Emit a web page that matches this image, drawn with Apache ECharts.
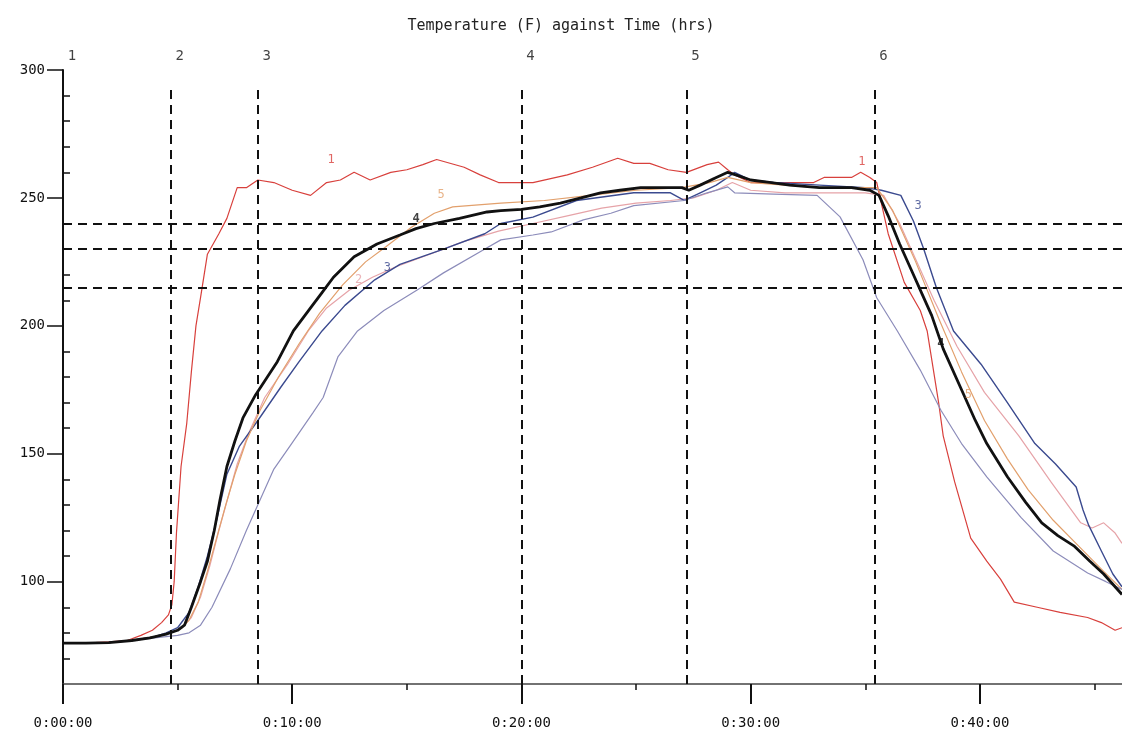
<!DOCTYPE html>
<html><head><meta charset="utf-8">
<script src="https://cdn.jsdelivr.net/npm/echarts@6/dist/echarts.min.js"></script>
<style>html,body{margin:0;padding:0;background:#fff}#c{width:1122px;height:733px}</style>
</head><body><div id="c"></div>
<script>
// Time in minutes, temperature in F
const s1 = [[0,76],[1,76],[2,76.5],[2.8,77],[3.4,79],[3.9,81],[4.3,84],[4.6,87],[4.75,91],[4.85,100],[4.95,119],[5.15,145],[5.4,162],[5.6,182],[5.8,200],[6.0,211],[6.3,228],[6.8,236],[7.15,242],[7.6,254],[8.0,254],[8.5,257],[9.2,256],[10.0,253],[10.8,251],[11.5,256],[12.1,257],[12.7,260],[13.4,257],[14.3,260],[15.0,261],[15.7,263],[16.3,265],[17.5,262],[18.2,259],[19.0,256],[20.5,256],[22.0,259],[23.1,262],[24.2,265.5],[24.9,263.5],[25.6,263.5],[26.4,261],[27.2,260],[28.1,263],[28.6,264],[29.0,261],[29.3,259],[30.0,256],[31.4,256],[32.75,256],[33.2,258],[34.4,258],[34.8,260],[35.2,258],[35.5,256],[36.0,236],[36.7,217],[37.4,206],[37.7,198],[38.2,170],[38.4,157],[38.9,139],[39.6,117],[40.3,108],[40.9,101],[41.5,92],[42.5,90],[43.5,88],[44.7,86],[45.3,84],[45.9,81],[46.2,82]];
const s2 = [[0,76],[2,76.2],[3,77],[4,78.5],[4.7,80],[5.2,82],[5.6,86],[6.0,94],[6.4,106],[6.8,120],[7.2,133],[7.6,146],[8.1,158],[8.8,172],[9.8,185],[10.7,198],[11.5,207],[12.5,214],[13.5,219],[14.5,223],[16,228],[17.5,233],[19,237],[20.5,240],[22,243],[23.5,246],[25,248],[26.5,249],[27.5,250],[28.5,253],[29.2,256],[30,253],[31.5,252],[33,252],[35,252],[35.8,251],[36.5,240],[37.2,226],[38,210],[39,192],[40.2,174],[41.7,157],[43.1,139],[44.4,123],[44.9,121],[45.4,123],[45.9,119],[46.2,115]];
const s3 = [[0,76],[2,76.2],[3,77],[4,78.5],[4.5,80],[5.0,82],[5.5,88],[5.9,98],[6.3,110],[6.7,124],[7.15,142],[7.7,153],[8.5,163],[9.5,176],[10.3,186],[11.3,198],[12.3,208],[13.6,218],[14.7,224],[16.6,230],[18.4,236],[19.1,240],[20.5,242.5],[22.4,249],[24.9,252],[26.5,252],[27.1,249],[27.8,252],[28.5,255],[29.0,258],[29.3,260],[30.0,257],[31.0,256],[33.0,255],[35.0,254],[35.7,253],[36.55,251],[37.1,241],[37.55,230],[38.1,215],[38.85,198],[40.05,185],[41.2,170],[42.4,154],[43.3,146],[44.2,137],[44.5,128],[44.75,122],[45.3,112],[45.8,103],[46.2,98]];
const s4 = [[0,76],[1,76],[2,76.2],[3,77],[3.8,78],[4.5,79.5],[5.0,81],[5.3,83],[5.6,90],[6.0,100],[6.3,108],[6.6,120],[6.85,132],[7.15,145],[7.5,155],[7.85,164],[8.4,173],[9.35,186],[10.05,198],[10.8,207],[11.3,213],[11.8,219],[12.7,227],[13.7,232],[14.7,235.5],[15.4,238],[16.2,240],[17.3,242],[18.5,244.5],[19.1,245],[20.0,245.5],[20.8,246.5],[21.7,248],[22.6,250],[23.45,252],[24.3,253],[25.2,254],[26.1,254],[27.0,254],[27.3,253],[27.8,255],[28.5,258],[29.0,260],[29.35,259],[30.0,257],[30.9,256],[31.7,255],[33.0,254],[34.4,254],[35.2,253],[35.6,251],[36.0,243],[36.5,232],[37.0,222],[37.5,212],[37.9,204],[38.4,191],[39.2,175],[39.8,163],[40.3,154],[41.2,141],[42.0,131],[42.7,123],[43.4,118],[44.1,114],[44.8,108],[45.4,103],[46.2,95]];
const s5 = [[0,76],[2,76.2],[3,77],[4,78.5],[4.7,80],[5.2,82],[5.5,85],[5.9,92],[6.3,104],[6.7,117],[7.1,130],[7.5,142],[8.0,155],[8.6,167],[9.4,180],[10.3,193],[11.2,205],[12.2,216],[13.2,225],[14.1,231],[15.2,238.5],[16.2,244],[17.0,246.5],[19.1,248],[21,249],[23,251],[25,253],[27,254],[28.2,256],[29,258],[30,256],[31.5,255],[33,254],[35.5,254],[36.2,245],[37.2,225],[38.2,203],[39.2,182],[40.2,163],[41.2,148],[42.1,136],[43.2,124],[44.3,114],[45.4,104],[46.2,97]];
const s6 = [[0,76],[2,76.2],[3,77],[4,78],[5,79],[5.5,80],[6.0,83],[6.5,90],[7.3,105],[8.0,120],[8.6,132],[9.2,144],[9.9,153],[10.9,166],[11.35,172],[12.0,188],[12.85,198],[14.0,206],[15.45,214],[16.6,220.7],[18.35,229.7],[19.1,233.6],[20.5,235.5],[21.3,236.7],[22.7,241.4],[23.9,244],[24.9,247],[27.1,249],[28.1,252],[29.0,254.3],[29.3,252],[31,251.5],[32.9,251],[33.9,242.6],[34.9,225.8],[35.5,211],[36.4,198],[37.4,182.7],[38.3,167],[39.2,154],[40.3,141],[41.8,125],[43.2,112],[44.7,103.4],[45.5,100],[46.2,97]];

const seriesNames = ['1','2','3','4','5','6'];
const seriesData = [s1, s2, s3, s4, s5, s6];
const seriesColors = ['#d8403c','#e6a3a8','#3b4a8f','#111111','#e2a06c','#8c8cba'];
const seriesWidths = [1.2, 1.2, 1.4, 2.8, 1.2, 1.2];

const markerTimes = [0, 4.7, 8.5, 20.0, 27.2, 35.4];
const markerNames = ['1','2','3','4','5','6'];
const markerTopTemp = 294;
const limitTemps = [240, 230, 215];

const xTickValues = [0, 10, 20, 30, 40];
const xTickLabels = ['0:00:00','0:10:00','0:20:00','0:30:00','0:40:00'];
const xMinorValues = [5, 15, 25, 35, 45];
const yTickValues = [100, 150, 200, 250, 300];
const yMinorValues = [70,80,90,110,120,130,140,160,170,180,190,210,220,230,240,260,270,280,290];

// [time, temp, text, series index]
const curveLabels = [[11.7,265,'1',0],[34.85,264,'1',0],[12.9,218,'2',1],[14.15,222.5,'3',2],[37.3,247,'3',2],[15.4,242,'4',3],[38.3,193,'4',3],[16.5,251,'5',4],[39.5,173,'5',4]];

const FONT = '"DejaVu Sans Mono", monospace';
const X_MIN = 0, X_MAX = 46.2, Y_MIN = 60, Y_MAX = 300;

const chart = echarts.init(document.getElementById('c'), null, {renderer: 'canvas'});

const lineSeries = seriesData.map((d, i) => ({
  name: seriesNames[i], type: 'line', data: d, showSymbol: false, symbol: 'none',
  lineStyle: {color: seriesColors[i], width: seriesWidths[i]}, z: i === 3 ? 5 : 3,
  animation: false, silent: true, xAxisIndex: 0, yAxisIndex: 0
}));

const dashStyle = {color: '#111', width: 2, type: [9, 6]};

const option = {
  backgroundColor: '#ffffff',
  animation: false,
  title: {
    text: 'Temperature (F) against Time (hrs)', left: 'center', top: 14,
    textStyle: {fontFamily: FONT, fontSize: 15, fontWeight: 'normal', color: '#222'}
  },
  grid: {left: 63, right: 0, top: 70, bottom: 49, containLabel: false},
  xAxis: [
    {type: 'value', min: X_MIN, max: X_MAX, position: 'bottom',
     axisLine: {show: true, lineStyle: {color: '#444', width: 1.5}},
     axisTick: {show: true, customValues: xTickValues, length: 20, lineStyle: {color: '#111', width: 2}},
     axisLabel: {show: true, customValues: xTickValues, margin: 32, fontFamily: FONT, fontSize: 14, color: '#111',
       formatter: v => xTickLabels[xTickValues.indexOf(v)] || ''},
     splitLine: {show: false}},
    {type: 'value', min: X_MIN, max: X_MAX, position: 'bottom', gridIndex: 0,
     axisLine: {show: false},
     axisTick: {show: true, customValues: xMinorValues, length: 6, lineStyle: {color: '#111', width: 1.5}},
     axisLabel: {show: false}, splitLine: {show: false}}
  ],
  yAxis: [
    {type: 'value', min: Y_MIN, max: Y_MAX,
     axisLine: {show: true, lineStyle: {color: '#111', width: 2}},
     axisTick: {show: true, customValues: yTickValues, length: 16, lineStyle: {color: '#111', width: 1.5}},
     axisLabel: {show: true, customValues: yTickValues, margin: 18, fontFamily: FONT, fontSize: 14, color: '#111'},
     splitLine: {show: false}},
    {type: 'value', min: Y_MIN, max: Y_MAX,
     axisLine: {show: false},
     axisTick: {show: true, customValues: yMinorValues, length: 7, lineStyle: {color: '#111', width: 1.5}},
     axisLabel: {show: false}, splitLine: {show: false}}
  ],
  series: [
    ...lineSeries,
    {
      name: 'markers', type: 'scatter', xAxisIndex: 0, yAxisIndex: 0, silent: true,
      symbolSize: 1, itemStyle: {color: 'rgba(0,0,0,0)'},
      data: markerTimes.map((t, i) => ({value: [t, Y_MAX], name: markerNames[i]})),
      label: {show: true, position: 'top', distance: 6, offset: [9, 0], formatter: p => p.name,
        fontFamily: FONT, fontSize: 14, color: '#111'},
      markLine: {
        silent: true, symbol: ['none', 'none'], label: {show: false},
        lineStyle: dashStyle,
        data: [
          ...markerTimes.slice(1).map(t => [{coord: [t, Y_MIN]}, {coord: [t, markerTopTemp]}]),
          ...limitTemps.map(v => ({yAxis: v}))
        ]
      },
      z: 4
    },
    {
      name: 'curveLabels', type: 'scatter', xAxisIndex: 0, yAxisIndex: 0, silent: true,
      symbolSize: 1, itemStyle: {color: 'rgba(0,0,0,0)'},
      data: curveLabels.map(c => ({value: [c[0], c[1]], name: c[2],
        label: {color: seriesColors[c[3]], fontWeight: c[3] === 3 ? 'bold' : 'normal'}})),
      label: {show: true, position: 'inside', formatter: p => p.name, fontFamily: FONT, fontSize: 12},
      z: 6
    }
  ]
};
chart.setOption(option);
</script>
</body></html>
